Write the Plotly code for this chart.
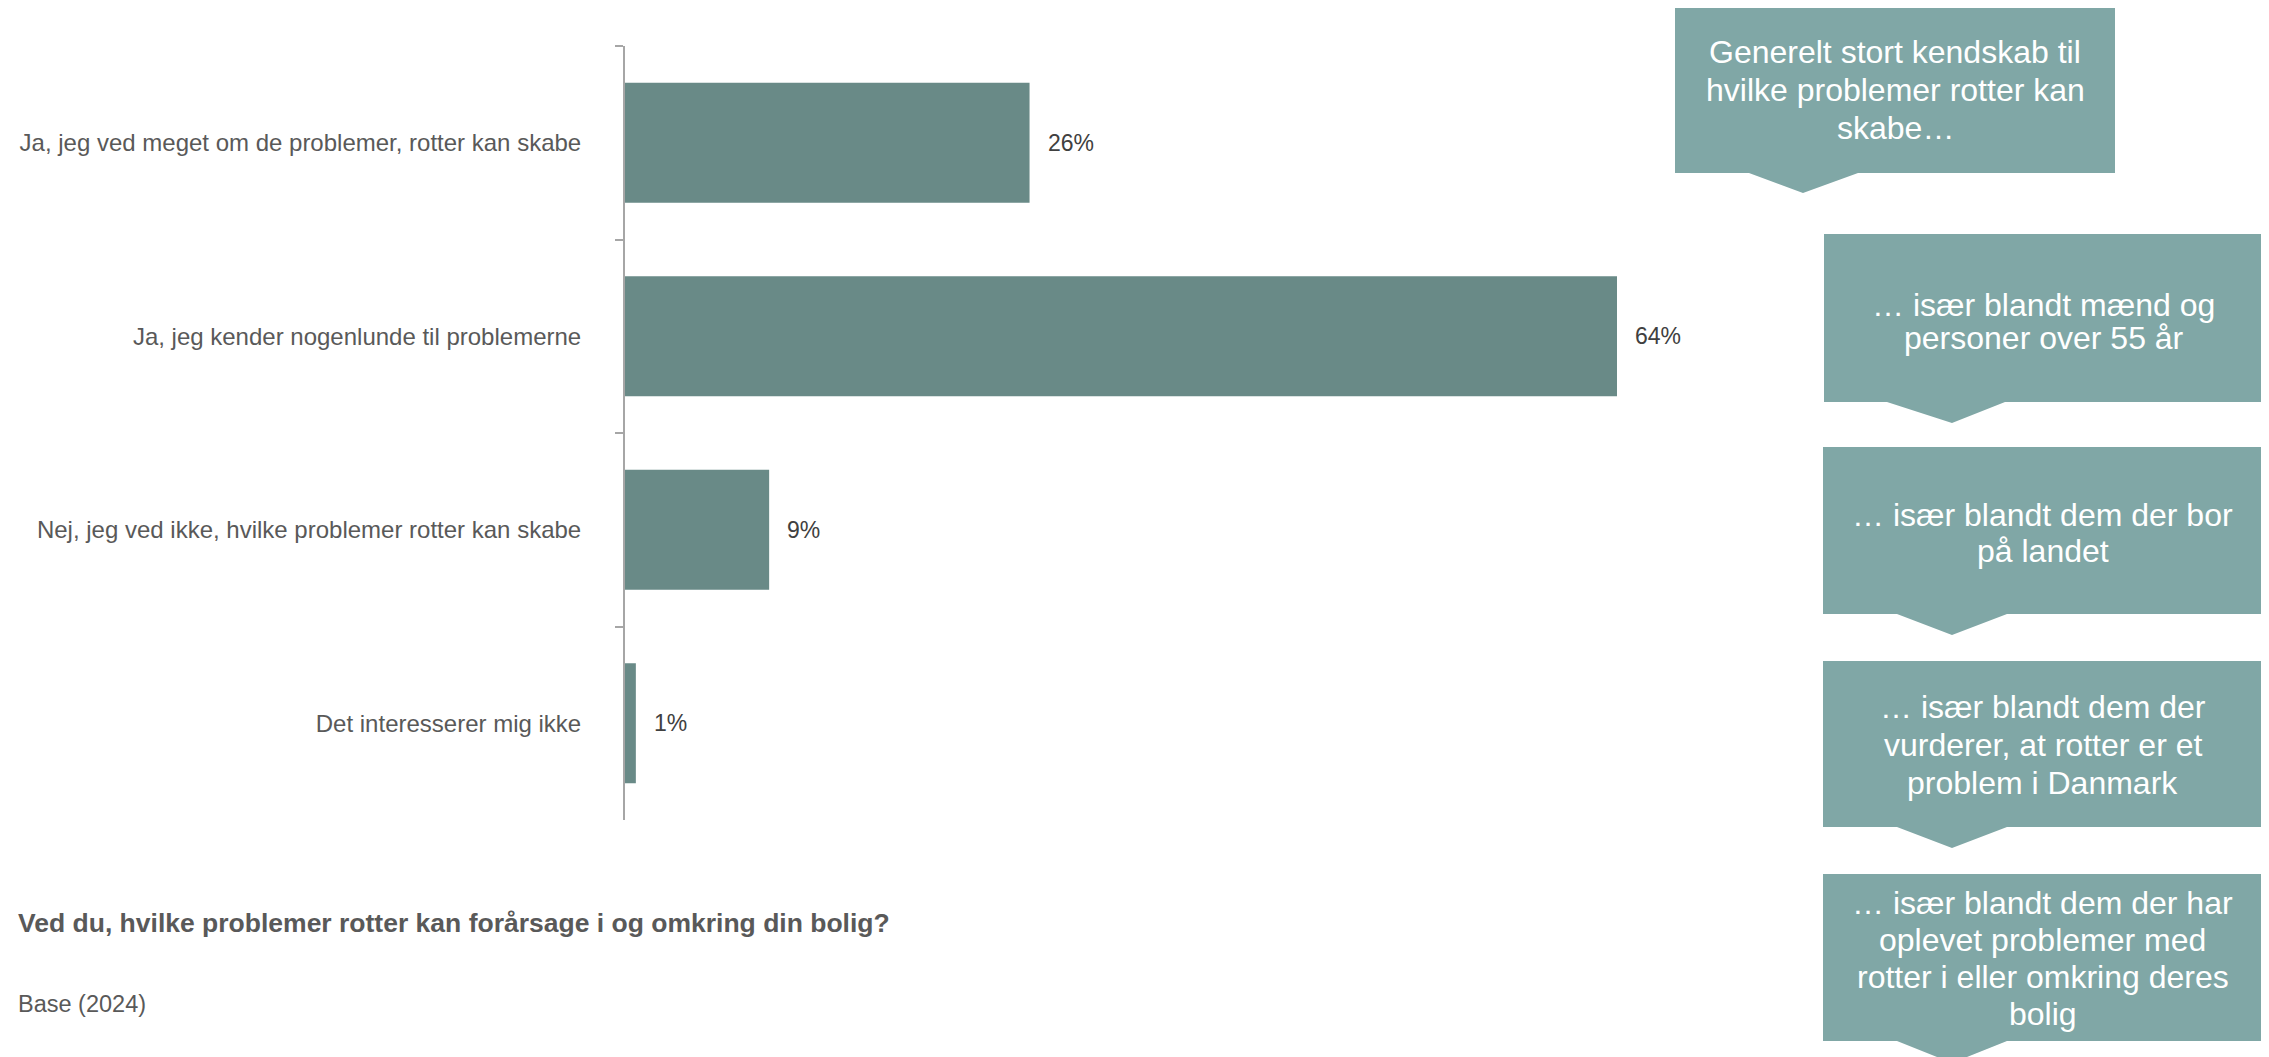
import plotly.graph_objects as go

# ---------------- data ----------------
categories = [
    "Ja, jeg ved meget om de problemer, rotter kan skabe",
    "Ja, jeg kender nogenlunde til problemerne",
    "Nej, jeg ved ikke, hvilke problemer rotter kan skabe",
    "Det interesserer mig ikke",
]
values = [26.1, 64.0, 9.3, 0.7]
value_labels = ["26%", "64%", "9%", "1%"]

question = "Ved du, hvilke problemer rotter kan forårsage i og omkring din bolig?"
base_note = "Base (2024)"

box_texts = [
    ["Generelt stort kendskab til", "hvilke problemer rotter kan", "skabe…"],
    ["… især blandt mænd og", "personer over 55 år"],
    ["… især blandt dem der bor", "på landet"],
    ["… især blandt dem der", "vurderer, at rotter er et", "problem i Danmark"],
    ["… især blandt dem der har", "oplevet problemer med", "rotter i eller omkring deres", "bolig"],
]

# ---------------- layout geometry (pixels) ----------------
OFF = 8  # page body margin added by the html page
W, H = 2269, 1057
L, T = 625 - OFF, 46 - OFF
XMAX = 70.0
PX_PER_PCT = 15.5
PW = XMAX * PX_PER_PCT
R = W - L - PW
PH = 774
B = H - T - PH

BAR_COLOR = "#698a87"
BOX_COLOR = "#80a7a6"
TXT = "#595959"
FONT = "Liberation Sans, Arial, sans-serif"


def px2x(px):
    return (px - OFF - L) / PW


def py2y(py):
    return 1 - (py - OFF - T) / PH


fig = go.Figure()
fig.add_trace(go.Bar(
    y=categories, x=values, orientation="h",
    marker=dict(color=BAR_COLOR, line=dict(width=0)),
    width=0.62, hoverinfo="skip",
))

annotations = []
for cat, v, lab in zip(categories, values, value_labels):
    annotations.append(dict(
        x=v, y=cat, xref="x", yref="y", text=lab, showarrow=False,
        xanchor="left", yanchor="middle", xshift=16,
        font=dict(family=FONT, size=23, color="#404040"),
    ))

annotations.append(dict(
    x=px2x(16), y=py2y(923), xref="paper", yref="paper", text="<b>" + question + "</b>",
    showarrow=False, xanchor="left", yanchor="middle",
    font=dict(family=FONT, size=26.5, color=TXT),
))
annotations.append(dict(
    x=px2x(16), y=py2y(1004), xref="paper", yref="paper", text=base_note,
    showarrow=False, xanchor="left", yanchor="middle",
    font=dict(family=FONT, size=23.5, color=TXT),
))

# callout boxes: x0, x1, y0, y1, arrow base left, arrow base right, tip x, tip y
boxes = [
    (1675, 2115, 5, 173, 1749, 1858, 1803, 193),
    (1824, 2263, 234, 402, 1887, 2005, 1952, 423),
    (1823, 2262, 447, 614, 1897, 2007, 1952, 635),
    (1823, 2262, 661, 827, 1897, 2007, 1952, 848),
    (1823, 2262, 874, 1041, 1897, 2007, 1952, 1063),
]
line_y = [
    [52, 90, 128],
    [305, 338],
    [515, 551],
    [707, 745, 783],
    [903, 940, 977, 1014],
]

shapes = []
for (x0, x1, y0, y1, a0, a1, tx, ty), lines, ys in zip(boxes, box_texts, line_y):
    pts = [(x0, y0), (x1, y0), (x1, y1), (a1, y1), (tx, ty), (a0, y1), (x0, y1)]
    path = "M " + " L ".join(f"{px2x(a):.5f},{py2y(b):.5f}" for a, b in pts) + " Z"
    shapes.append(dict(type="path", path=path, xref="paper", yref="paper",
                       fillcolor=BOX_COLOR, line=dict(width=0), layer="above"))
    cx = (x0 + x1) / 2
    for line, yy in zip(lines, ys):
        annotations.append(dict(
            x=px2x(cx), y=py2y(yy), xref="paper", yref="paper", text=line,
            showarrow=False, xanchor="center", yanchor="middle",
            font=dict(family=FONT, size=32, color="white"),
        ))

fig.update_layout(
    width=W, height=H,
    margin=dict(l=L, r=R, t=T, b=B, pad=0),
    paper_bgcolor="white", plot_bgcolor="white",
    showlegend=False,
    xaxis=dict(range=[0, XMAX], visible=False, fixedrange=True),
    yaxis=dict(
        type="category", categoryorder="array", categoryarray=categories,
        range=[3.5, -0.5], tickson="boundaries",
        showline=True, linecolor="#a6a6a6", linewidth=2,
        ticks="outside", ticklen=8, tickcolor="#a6a6a6", tickwidth=2,
        showgrid=False, zeroline=False,
        tickfont=dict(family=FONT, size=24, color=TXT),
        ticklabelstandoff=37,
    ),
    annotations=annotations,
    shapes=shapes,
    bargap=0.38,
)

fig.write_html("out.html")
